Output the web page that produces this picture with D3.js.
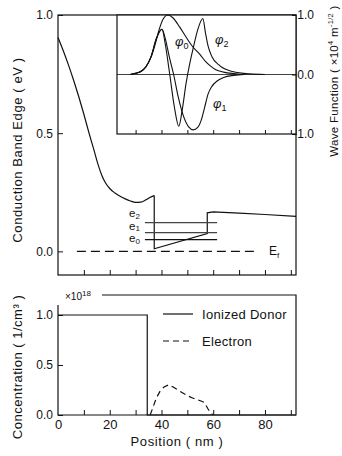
<!DOCTYPE html>
<html>
<head>
<meta charset="utf-8">
<script src="https://cdn.jsdelivr.net/npm/d3@7"></script>
<style>
body { margin: 0; background: #fff; }
svg { display: block; font-family: "Liberation Sans", Arial, sans-serif; }
</style>
</head>
<body>
<div id="chart"></div>
<script>
// ---- data (positions in nm) ----
const xTickVals = [10, 20, 30, 40, 50, 60, 70, 80, 90];
const xLabelVals = [0, 20, 40, 60, 80];
const bandTicks = [0, 0.5, 1.0];
const waveTicks = [-1.0, 0.0, 1.0];
const concTicks = [0, 0.5, 1.0];

// conduction band edge (eV), smooth part in the doped layer
const bandPos = [0, 2, 4, 6, 8, 10, 12, 14, 15, 16, 17, 18, 20, 22, 24, 26, 28, 30, 32, 34, 35.5, 37.2];
const bandVal = [0.905, 0.85, 0.79, 0.725, 0.655, 0.58, 0.5, 0.425, 0.385, 0.35, 0.32, 0.297, 0.266, 0.247, 0.233, 0.222, 0.213, 0.207, 0.208, 0.218, 0.228, 0.236];
// well and barrier part
const wellPos = [37.2, 37.2, 57.7, 57.7, 60, 70, 80, 92];
const wellVal = [0.236, 0.011, 0.075, 0.163, 0.167, 0.162, 0.156, 0.148];

const levelNames = ["0", "1", "2"];
const levelVal = [0.050, 0.079, 0.122];
const levelSpan = [33.6, 61.5];
const fermiSpan = [7.3, 76.5];

// wave functions (x10^4 m^-1/2)
const phi0Pos = [28, 30, 32, 34, 36, 37.5, 39, 40.5, 42.5, 44.5, 47, 49.5, 52, 55, 57, 59, 61, 64, 68, 72];
const phi0Val = [0, 0.02, 0.05, 0.13, 0.3, 0.5, 0.74, 0.92, 1.0, 0.95, 0.8, 0.63, 0.47, 0.33, 0.22, 0.14, 0.08, 0.04, 0.015, 0];
const phi1Pos = [28, 30, 32, 34, 36, 38, 40.2, 41.5, 43, 44.7, 46.5, 48.5, 50.5, 52.3, 54, 55.5, 56.7, 58, 59.5, 61.5, 64, 68, 72];
const phi1Val = [0, 0.02, 0.05, 0.13, 0.3, 0.6, 0.76, 0.6, 0.3, 0, -0.38, -0.7, -0.88, -0.93, -0.89, -0.75, -0.55, -0.33, -0.2, -0.11, -0.05, -0.015, 0];
const phi2Pos = [28, 30, 32, 34, 36, 38, 40.2, 41.5, 43.2, 45, 46.7, 48, 49.5, 51, 52.3, 54, 56, 57, 58, 59.5, 62.5, 67.5, 74, 80];
const phi2Val = [0, 0.02, 0.05, 0.13, 0.3, 0.6, 0.76, 0.5, 0, -0.55, -0.87, -0.6, -0.15, 0.2, 0.45, 0.75, 0.94, 0.7, 0.48, 0.3, 0.15, 0.05, 0.01, 0];

// concentrations (x10^18 1/cm^3)
const donorPos = [0, 34.5, 34.5, 92];
const donorVal = [1, 1, 0, 0];
const elecPos = [35.6, 36.5, 38, 39.5, 41, 42.6, 44.5, 47, 49.5, 52, 55.3, 56.6, 58, 59.8];
const elecVal = [0, 0.06, 0.17, 0.24, 0.28, 0.30, 0.28, 0.24, 0.2, 0.17, 0.14, 0.125, 0.06, 0];

const zip = (a, b) => a.map((d, i) => [d, b[i]]);

// ---- layout ----
const W = 342, H = 456;
const left = 58, right = 296;
const topY0 = 15, topY1 = 275;
const insetLeft = 117, insetBottom = 134;
const botY0 = 295, botY1 = 415;

const svg = d3.select("#chart").append("svg").attr("width", W).attr("height", H);
svg.append("rect").attr("width", W).attr("height", H).attr("fill", "#fff");

const x = d3.scaleLinear().domain([0, 92]).range([left, right]);
const yBand = d3.scaleLinear().domain([-0.1, 1.0]).range([topY1, topY0]);
const yWave = d3.scaleLinear().domain([-1, 1]).range([insetBottom, topY0]);
const yConc = d3.scaleLinear().domain([0, 1.2]).range([botY1, botY0]);

const fmt = d => d.toFixed(1);
const ink = "#111";

function styleAxis(g) {
  g.select(".domain").remove();
  g.selectAll("line").attr("stroke", ink).attr("stroke-width", 1);
  g.selectAll("text").attr("fill", ink).style("font-size", "12px").attr("font-family", null);
}

// ---- top panel ----
const bandPanel = svg.append("g");
bandPanel.append("rect").attr("x", left).attr("y", topY0).attr("width", right - left).attr("height", topY1 - topY0)
  .attr("fill", "none").attr("stroke", ink).attr("stroke-width", 1.2);

bandPanel.append("g").attr("transform", `translate(0,${topY1})`)
  .call(d3.axisBottom(x).tickValues(xTickVals).tickSize(-5).tickFormat(""))
  .call(styleAxis);
bandPanel.append("g").attr("transform", `translate(${left},0)`)
  .call(d3.axisLeft(yBand).tickValues(bandTicks).tickSize(-5).tickPadding(5).tickFormat(fmt))
  .call(styleAxis);

const smooth = d3.line().x(d => x(d[0])).curve(d3.curveMonotoneX);
const straight = d3.line().x(d => x(d[0]));

bandPanel.append("path").datum(zip(bandPos, bandVal))
  .attr("d", smooth.y(d => yBand(d[1]))).attr("fill", "none").attr("stroke", ink).attr("stroke-width", 1.2);
bandPanel.append("path").datum(zip(wellPos, wellVal))
  .attr("d", straight.y(d => yBand(d[1]))).attr("fill", "none").attr("stroke", ink).attr("stroke-width", 1.2);

// subband levels
const levelLabelY = [242, 229.5, 217];
levelVal.forEach((v, i) => {
  bandPanel.append("line").attr("x1", x(levelSpan[0])).attr("x2", x(levelSpan[1]))
    .attr("y1", yBand(v)).attr("y2", yBand(v)).attr("stroke", i === 0 ? ink : "#444").attr("stroke-width", 1.2);
  const t = bandPanel.append("text").attr("x", 129).attr("y", levelLabelY[i])
    .attr("fill", ink).style("font-size", "11.5px");
  t.append("tspan").text("e");
  t.append("tspan").attr("dy", 1.5).style("font-size", "8px").text(levelNames[i]);
});

// Fermi level
bandPanel.append("line").attr("x1", x(fermiSpan[0])).attr("x2", x(fermiSpan[1]))
  .attr("y1", yBand(0)).attr("y2", yBand(0))
  .attr("stroke", ink).attr("stroke-width", 1.2).attr("stroke-dasharray", "9,5");
const ef = bandPanel.append("text").attr("x", 269).attr("y", yBand(0) + 4).attr("fill", ink).style("font-size", "12px");
ef.append("tspan").text("E");
ef.append("tspan").attr("dy", 3).style("font-size", "8px").text("f");

bandPanel.append("text").attr("transform", `translate(22,${(58 + 242) / 2}) rotate(-90)`)
  .attr("text-anchor", "middle").attr("fill", ink).style("font-size", "13px").style("letter-spacing", "0.6px")
  .text("Conduction Band Edge ( eV )");

// ---- inset: wave functions ----
const inset = svg.append("g");
inset.append("rect").attr("x", insetLeft).attr("y", topY0).attr("width", right - insetLeft)
  .attr("height", insetBottom - topY0).attr("fill", "#fff").attr("stroke", ink).attr("stroke-width", 1.2);
inset.append("line").attr("x1", insetLeft).attr("x2", right).attr("y1", yWave(0)).attr("y2", yWave(0))
  .attr("stroke", ink).attr("stroke-width", 0.8);
inset.append("g").attr("transform", `translate(0,${insetBottom})`)
  .call(d3.axisBottom(x).tickValues(xTickVals.filter(d => d >= 30)).tickSize(-4).tickFormat(""))
  .call(styleAxis);
inset.append("g").attr("transform", `translate(${right},0)`)
  .call(d3.axisRight(yWave).tickValues(waveTicks).tickSize(-4).tickFormat(fmt))
  .call(styleAxis)
  .call(g => g.selectAll("text").attr("text-anchor", "end").attr("x", 18));

[[phi0Pos, phi0Val], [phi1Pos, phi1Val], [phi2Pos, phi2Val]].forEach(([p, v]) => {
  inset.append("path").datum(zip(p, v))
    .attr("d", smooth.y(d => yWave(d[1]))).attr("fill", "none").attr("stroke", ink).attr("stroke-width", 1.1);
});

const phiLabels = [["0", 175, 46], ["2", 215, 44], ["1", 213, 108]];
phiLabels.forEach(([s, lx, ly]) => {
  const t = inset.append("text").attr("x", lx).attr("y", ly).attr("fill", ink).style("font-size", "13px");
  t.append("tspan").style("font-style", "italic").text("φ");
  t.append("tspan").attr("dy", 3).style("font-size", "9px").text(s);
});

const wt = svg.append("text").attr("transform", `translate(338,81) rotate(-90)`)
  .attr("text-anchor", "middle").attr("fill", ink).style("font-size", "11.5px").style("letter-spacing", "0.3px");
wt.append("tspan").text("Wave Function ( ×10");
wt.append("tspan").attr("dy", -5).style("font-size", "7.5px").text("4");
wt.append("tspan").attr("dy", 5).text(" m");
wt.append("tspan").attr("dy", -5).style("font-size", "7.5px").text("-1/2");
wt.append("tspan").attr("dy", 5).text(" )");

// ---- bottom panel: concentrations ----
const concPanel = svg.append("g");
concPanel.append("path")
  .attr("d", `M${left},${yConc(1.1)}V${botY1}H${right}V${botY0}H102`)
  .attr("fill", "none").attr("stroke", ink).attr("stroke-width", 1.2);

concPanel.append("g").attr("transform", `translate(0,${botY1})`)
  .call(d3.axisBottom(x).tickValues(xTickVals).tickSize(-5).tickFormat(""))
  .call(styleAxis);
concPanel.append("g").attr("transform", `translate(0,${botY1})`)
  .call(d3.axisBottom(x).tickValues(xLabelVals).tickSize(0).tickPadding(5).tickFormat(d3.format("d")))
  .call(styleAxis)
  .call(g => g.selectAll("text").style("font-size", "13px"));
concPanel.append("g").attr("transform", `translate(${left},0)`)
  .call(d3.axisLeft(yConc).tickValues(concTicks).tickSize(-5).tickPadding(5).tickFormat(fmt))
  .call(styleAxis);

concPanel.append("path").datum(zip(donorPos, donorVal))
  .attr("d", straight.y(d => yConc(d[1]))).attr("fill", "none").attr("stroke", ink).attr("stroke-width", 1.2);
concPanel.append("path").datum(zip(elecPos, elecVal))
  .attr("d", straight.y(d => yConc(d[1]))).attr("fill", "none").attr("stroke", ink).attr("stroke-width", 1.2)
  .attr("stroke-dasharray", "6,4");

const mult = concPanel.append("text").attr("x", 65).attr("y", 300).attr("fill", ink).style("font-size", "10px");
mult.append("tspan").text("×10");
mult.append("tspan").attr("dy", -4).style("font-size", "8px").text("18");

// legend
const legend = [["Ionized Donor", null, 314], ["Electron", "6,4", 341]];
legend.forEach(([name, dash, ly]) => {
  concPanel.append("line").attr("x1", 163).attr("x2", 193).attr("y1", ly).attr("y2", ly)
    .attr("stroke", ink).attr("stroke-width", 1.2).attr("stroke-dasharray", dash);
  concPanel.append("text").attr("x", 202).attr("y", ly + 4.5).attr("fill", ink)
    .style("font-size", "13px").style("letter-spacing", "0.3px").text(name);
});

concPanel.append("text").attr("transform", `translate(22,367) rotate(-90)`)
  .attr("text-anchor", "middle").attr("fill", ink).style("font-size", "13px").style("letter-spacing", "0.5px")
  .text("Concentration ( 1/cm³ )");
concPanel.append("text").attr("x", (left + right) / 2).attr("y", 446).attr("text-anchor", "middle")
  .attr("fill", ink).style("font-size", "13px").style("letter-spacing", "0.6px").text("Position ( nm )");
</script>
</body>
</html>
